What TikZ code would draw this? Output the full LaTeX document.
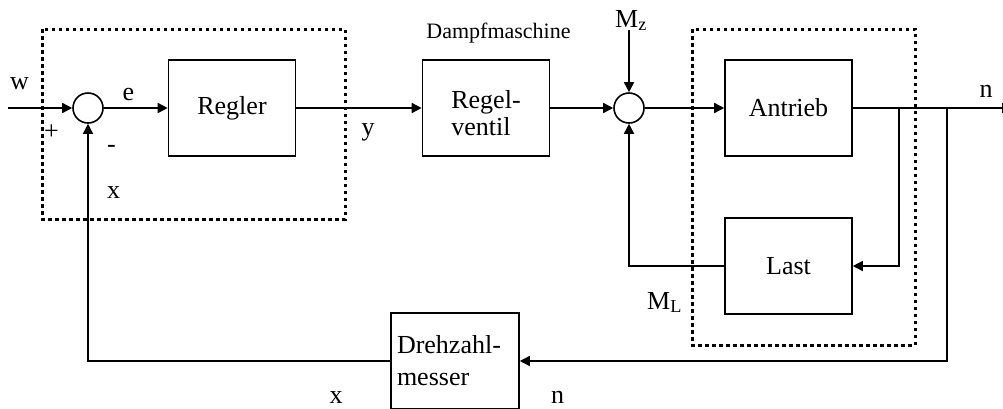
\documentclass[tikz,border=0pt]{standalone}
\usepackage{fontspec}
\setmainfont{Liberation Serif}
\usetikzlibrary{arrows.meta}
\newcommand\bigfs{\fontsize{26}{27}\selectfont}
\newcommand\midfs{\fontsize{22}{24}\selectfont}
\begin{document}
\begin{tikzpicture}[x=1pt,y=-1pt,
  block/.style={draw, line width=1.6pt, minimum width=127pt, minimum height=96pt, inner sep=0pt, font=\bigfs},
  sumnode/.style={draw, circle, minimum size=30pt, inner sep=0pt, line width=1.6pt},
  conn/.style={line width=1.6pt, -{Triangle[length=10pt,width=10pt]}},
  dotbox/.style={line width=3pt, dash pattern=on 3.5pt off 3.5pt},
  lbl/.style={font=\bigfs, inner sep=0pt, anchor=base},
  slbl/.style={font=\midfs, inner sep=0pt, anchor=base}]
\useasboundingbox (0,0) rectangle (1003,408);
\clip (0,0) rectangle (1003,408);
\fill[white] (0,0) rectangle (1003,408);

% dotted groups
\draw[dotbox] (42,29) rectangle (345,219);
\draw[dotbox] (692,29) rectangle (915,345);

% blocks
\node[sumnode] (s1) at (88,108) {};
\node[block] (regler) at (232,108) {Regler};
\node[block, align=left] (ventil) at (486,108) {\rule{0pt}{28pt}Regel-\\ventil};
\node[sumnode] (s2) at (629,108) {};
\node[block] (antrieb) at (788.5,108) {Antrieb};
\node[block] (last) at (788.5,266) {Last};
\node[block, align=left, text width=116pt, inner xsep=6pt, font=\fontsize{26}{32}\selectfont] (dm) at (455,361) {Drehzahl-\\messer};

% free ends
\coordinate (win) at (8,108);
\coordinate (mzin) at (629,30);
\coordinate (out) at (1012,108);
\coordinate (b1) at (899,108);
\coordinate (b2) at (947,108);

% connectors
\draw[conn] (win) -- (s1);
\draw[conn] (s1) -- (regler);
\draw[conn] (regler) -- (ventil);
\draw[conn] (ventil) -- (s2);
\draw[conn] (mzin) -- (s2);
\draw[conn] (s2) -- (antrieb);
\draw[conn] (antrieb) -- (out);
\draw[conn] (b1) |- (last);
\draw[conn] (last) -| (s2);
\draw[conn] (b2) |- (dm);
\draw[conn] (dm) -| (s1);

% labels
\node[lbl] (lw) at (19.5,89) {w};
\node[lbl] (le) at (128.5,100) {e};
\node[lbl] (lplus) at (51.5,139) {+};
\node[lbl] (lminus) at (111.5,152) {-};
\node[lbl] (lx1) at (113.5,198) {x};
\node[lbl] (ly) at (368,135) {y};
\node[slbl] (ldampf) at (498.5,38) {Dampfmaschine};
\node[lbl] (lmz) at (631,27) {M\textsubscript{z}};
\node[lbl] (ln1) at (986,97) {n};
\node[lbl] (lml) at (664.5,309) {M\textsubscript{L}};
\node[lbl] (lx2) at (336,403) {x};
\node[lbl] (ln2) at (557.5,403) {n};
\end{tikzpicture}
\end{document}
